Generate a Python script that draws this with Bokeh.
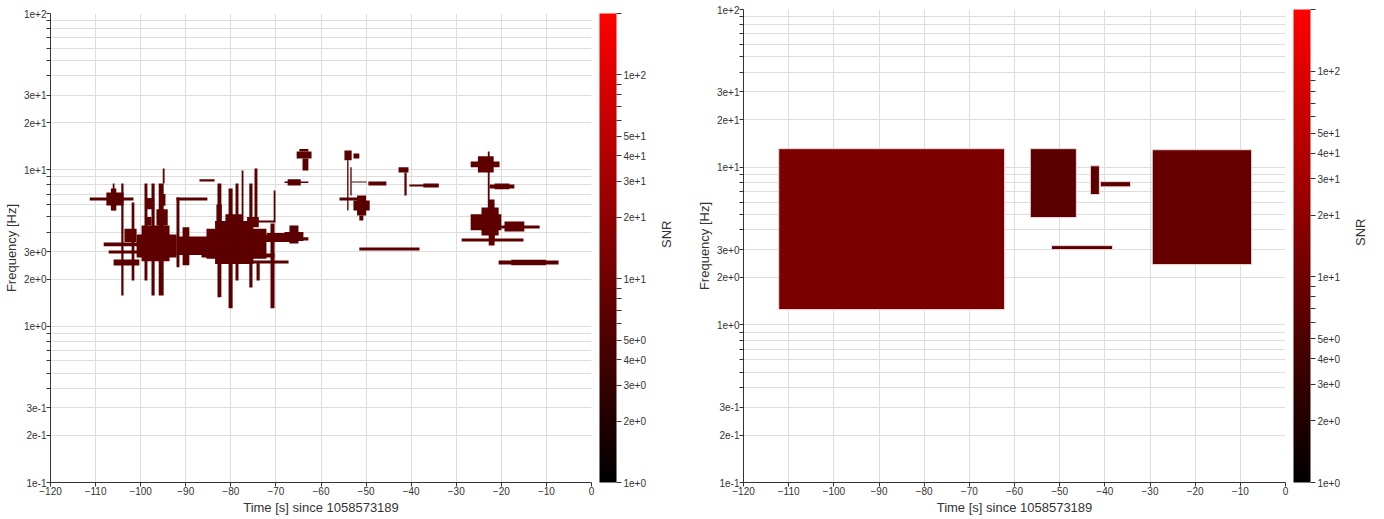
import math
from bokeh.plotting import figure
from bokeh.models import (ColumnDataSource, LogColorMapper, ColorBar, FixedTicker,
                          CustomJSTickFormatter, LinearAxis, Range1d)
from bokeh.layouts import row, column
from bokeh.embed import file_html
from bokeh.resources import INLINE

FONT = "Liberation Sans"

# ---------------- data ----------------
# Left panel: time-frequency tiles (start time, end time, low freq, high freq, SNR)
tile_t0 = [-111.3, -107.6, -106.6, -106.2, -104.3, -108.2, -107.1, -106.0, -102.0,
           -99.15, -97.6, -96.0, -95.1,
           -100.9, -99.8, -96.5, -98.9, -103.6,
           -92.05, -92.05, -86.95,
           -92.05, -90.7, -85.4, -83.5, -81.2, -72.75, -83.2,
           -82.96, -80.5, -78.96, -77.6, -75.9, -74.75, -71.2, -70.5, -74.3,
           -75.4, -84.95, -67.0, -68.1, -86.5, -75.4,
           -68.1, -67.4, -65.4, -64.8, -64.1,
           -54.8, -54.2, -53.5, -52.8, -53.2, -49.5, -55.9, -52.0, -52.8, -51.5, -51.5,
           -42.8, -41.5, -40.4, -37.3,
           -23.0, -26.8, -25.2, -22.6, -21.5, -24.4, -26.8, -22.8, -20.6, -19.3, -28.8, -22.6,
           -20.6, -17.8,
           -72.0, -98.6, -95.8, -76.4]
tile_t1 = [-101.6, -103.8, -105.4, -105.8, -103.8, -96.0, -100.5, -100.3, -101.4,
           -98.5, -96.9, -94.9, -94.7,
           -92.05, -93.6, -94.0, -97.6, -100.9,
           -85.2, -91.4, -83.6,
           -83.2, -89.2, -72.1, -75.0, -77.5, -68.0, -82.0,
           -82.1, -79.6, -78.3, -77.2, -75.2, -74.1, -70.3, -70.1, -73.6,
           -70.3, -62.8, -65.0, -63.9, -70.3, -67.2,
           -62.8, -64.5, -62.1, -62.8, -62.8,
           -53.2, -53.9, -53.2, -51.5, -49.9, -45.5, -50.6, -50.0, -49.2, -50.6, -38.15,
           -40.6, -41.0, -33.9, -33.9,
           -22.6, -20.4, -21.7, -17.1, -18.2, -20.6, -20.0, -21.5, -11.5, -14.9, -15.1, -21.5,
           -7.3, -10.1,
           -66.5, -97.0, -94.5, -73.8]
tile_f0 = [6.37, 5.92, 5.5, 5.5, 1.57, 3.24, 2.92, 2.44, 1.96,
           1.96, 1.57, 1.57, 8.18,
           2.75, 2.6, 4.4, 4.4, 3.45,
           6.37, 2.38, 8.43,
           2.85, 2.45, 2.7, 2.5, 4.4, 3.45, 4.7,
           1.53, 1.30, 1.96, 2.75, 1.77, 4.54, 1.30, 4.61, 1.96,
           4.61, 3.53, 3.38, 3.5, 2.75, 2.52,
           8.25, 7.95, 11.8, 13.1, 9.9,
           11.5, 5.5, 6.85, 11.8, 8.3, 7.95, 6.37, 5.1, 5.5, 4.75, 3.05,
           9.6, 6.85, 7.83, 7.7,
           5.5, 10.4, 9.6, 7.6, 7.5, 3.8, 4.1, 3.28, 4.22, 4.03, 3.48, 3.5,
           2.48, 2.45,
           3.45, 5.6, 5.9, 4.3]
tile_f1 = [6.66, 7.17, 7.6, 8.18, 8.18, 3.43, 3.05, 2.67, 6.18,
           8.18, 8.18, 8.18, 10.2,
           3.86, 4.4, 5.6, 5.0, 4.2,
           6.66, 6.66, 8.7,
           3.75, 4.3, 4.2, 4.7, 5.2, 3.85, 6.0,
           8.18, 7.6, 8.18, 9.9, 8.18, 10.2, 4.54, 7.38, 2.56,
           4.75, 3.7, 4.41, 4.0, 2.92, 2.63,
           8.43, 8.7, 13.1, 13.6, 11.8,
           13.3, 11.5, 10.4, 12.7, 8.43, 8.43, 6.66, 6.85, 6.37, 5.1, 3.19,
           10.4, 9.6, 8.07, 8.18,
           13.1, 11.3, 12.2, 8.07, 8.18, 5.74, 5.2, 6.47, 4.41, 4.68, 3.64, 4.4,
           2.63, 2.66,
           3.95, 6.6, 7.0, 5.0]
tile_snr = [6.5] * 13 + [7.0] * 5 + [6.5] * 3 + [7.0] * 7 + [6.5] * 9 + [6.5] * 6 + \
           [6.5] * 5 + [6.5] * 11 + [6.5] * 4 + [7.0] * 12 + [6.5] * 2 + [7.0] * 4

# Right panel: clustered tiles
clus_t0 = [-112.2, -56.5, -43.2, -41.0, -51.8, -29.5]
clus_t1 = [-62.2, -46.3, -41.2, -34.3, -38.3, -7.5]
clus_f0 = [1.25, 4.79, 6.7, 7.5, 3.0, 2.41]
clus_f1 = [13.1, 13.1, 10.2, 8.1, 3.18, 12.9]
clus_snr = [12.5, 6.5, 6.5, 6.5, 6.5, 8.0]

time_ticks = list(range(-120, 1, 10))
freq_ticks = [m * 10.0 ** e for e in (-1, 0, 1) for m in range(1, 10)] + [100.0]
snr_ticks = [m * 10.0 ** e for e in (0, 1) for m in range(1, 10)] + [100.0, 200.0]

SNR_LOW, SNR_HIGH = 1.0, 200.0
palette = ["#%02x0000" % i for i in range(256)]


def sci_formatter(limit, top):
    return CustomJSTickFormatter(code="""
        const e = Math.floor(Math.log10(tick) + 1e-9);
        const m = Math.round(tick / Math.pow(10, e));
        if (m > %d || tick > %g) { return ""; }
        return m + "e" + (e >= 0 ? "+" : "-") + Math.abs(e);
    """ % (limit, top))


def make_panel(t0, t1, f0, f1, snr, frame_w, frame_h, top_b, left_b, right_b, edge):
    mapper = LogColorMapper(palette=palette, low=SNR_LOW, high=SNR_HIGH)
    p = figure(frame_width=frame_w, frame_height=frame_h, x_range=(-120, 0), y_range=(0.1, 100),
               y_axis_type="log", output_backend="svg", toolbar_location=None,
               min_border_left=left_b, min_border_right=right_b, min_border_top=top_b,
               min_border_bottom=5)
    p.outline_line_color = None
    src = ColumnDataSource(dict(t0=t0, t1=t1, f0=f0, f1=f1, snr=snr))
    p.quad(left="t0", right="t1", bottom="f0", top="f1", source=src,
           fill_color={"field": "snr", "transform": mapper},
           line_color=edge, line_width=1 if edge else 0)

    p.xaxis.ticker = FixedTicker(ticks=time_ticks, minor_ticks=[])
    p.yaxis.ticker = FixedTicker(ticks=freq_ticks, minor_ticks=[])
    p.yaxis.formatter = sci_formatter(3, 100)
    p.xaxis.axis_label = "Time [s] since 1058573189"
    p.yaxis.axis_label = "Frequency [Hz]"
    for ax in (p.xaxis[0], p.yaxis[0]):
        ax.axis_line_color = "#333333"
        ax.major_tick_line_color = "#333333"
        ax.major_tick_out = 4
        ax.major_tick_in = 0
        ax.major_label_text_font = FONT
        ax.major_label_text_font_size = "10px"
        ax.major_label_text_color = "#333333"
        ax.major_label_standoff = 0
        ax.axis_label_text_font = FONT
        ax.axis_label_text_font_size = "13px"
        ax.axis_label_text_font_style = "normal"
        ax.axis_label_text_color = "#333333"
        ax.axis_label_standoff = 2
    p.grid.grid_line_color = "#dddddd"
    p.grid.grid_line_width = 1

    cb = ColorBar(color_mapper=mapper,
                  ticker=FixedTicker(ticks=snr_ticks, minor_ticks=[]),
                  formatter=sci_formatter(5, 100), width=17, height=frame_h,
                  padding=0, margin=0, location=(8, 0),
                  major_tick_out=5, major_tick_in=0, major_tick_line_color="#333333",
                  major_label_text_font=FONT, major_label_text_font_size="10px",
                  major_label_text_color="#333333", label_standoff=2,
                  bar_line_color=None, border_line_color=None,
                  background_fill_color=None, minor_tick_line_color=None)
    p.add_layout(cb, "right")

    # invisible right axis that only carries the "SNR" title
    p.extra_y_ranges = {"snr": Range1d(0, 1)}
    sax = LinearAxis(y_range_name="snr", axis_label="SNR",
                     ticker=FixedTicker(ticks=[]), axis_line_color=None,
                     major_tick_line_color=None, minor_tick_line_color=None,
                     major_label_text_font_size="0px",
                     axis_label_text_font=FONT, axis_label_text_font_size="13px",
                     axis_label_text_font_style="normal", axis_label_text_color="#333333",
                     axis_label_standoff=17)
    try:
        sax.axis_label_orientation = math.pi / 2
    except Exception:
        pass
    p.add_layout(sax, "right")
    return p


p1 = make_panel(tile_t0, tile_t1, tile_f0, tile_f1, tile_snr, 541, 469, 13, 49, 102, None)
p2 = make_panel(clus_t0, clus_t1, clus_f0, clus_f1, clus_snr, 542, 473, 9, 49, 93, "#f0d8d8")

layout = row(column(p1), column(p2))
open("out.html", "w").write(file_html(layout, INLINE))
